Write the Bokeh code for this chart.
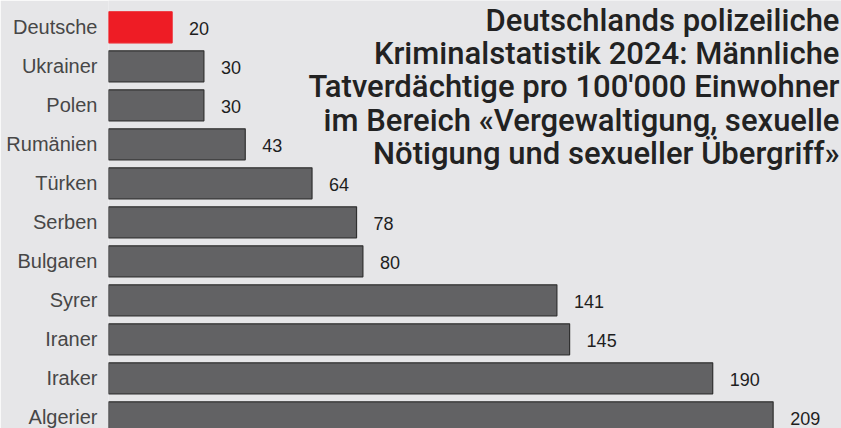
from bokeh.plotting import figure
from bokeh.models import ColumnDataSource, Range1d, FixedTicker, Label
from bokeh.embed import file_html
from bokeh.resources import INLINE
from bokeh.core.properties import value

categories = ["Deutsche", "Ukrainer", "Polen", "Rumänien", "Türken", "Serben",
              "Bulgaren", "Syrer", "Iraner", "Iraker", "Algerier"]
values = [20, 30, 30, 43, 64, 78, 80, 141, 145, 190, 209]
highlight = "Deutsche"
title_lines = ["Deutschlands polizeiliche",
               "Kriminalstatistik 2024: Männliche",
               "Tatverdächtige pro 100'000 Einwohner",
               "im Bereich «Vergewaltigung, sexuelle",
               "Nötigung und sexueller Übergriff»"]

BG = "#e6e6e8"
RED = "#ee1c25"
GREY = "#626264"

idx = list(range(len(categories)))
fill = [RED if c == highlight else GREY for c in categories]
line = [RED if c == highlight else "#303030" for c in categories]
src = ColumnDataSource(dict(y=idx, v=values, cat=categories, fill=fill, line=line,
                            lab=[str(v) for v in values]))

W, H = 841, 428
X_END = 230.5
Y_TOP = -0.687
Y_BOT = 10.287
p = figure(width=W, height=H, output_backend="svg", toolbar_location=None,
           x_range=Range1d(0, X_END), y_range=Range1d(Y_BOT, Y_TOP),
           min_border=0, min_border_left=108)
p.background_fill_color = BG
p.border_fill_color = BG
p.outline_line_color = None
p.xgrid.visible = False
p.ygrid.visible = False
p.xaxis.visible = False

p.hbar(y="y", left=0, right="v", height=0.795, source=src,
       fill_color="fill", line_color="line", line_width=1.2)

p.text(x="v", y="y", text="lab", source=src, x_offset=17, y_offset=1,
       text_font=value("Liberation Sans"), text_font_size="18px",
       text_color="#1e1e1e", text_baseline="middle", text_align="left")

ya = p.yaxis[0]
ya.ticker = FixedTicker(ticks=idx)
ya.major_label_overrides = {i: c for i, c in zip(idx, categories)}
ya.axis_line_color = None
ya.major_tick_line_color = None
ya.minor_tick_line_color = None
ya.major_tick_out = 0
ya.major_tick_in = 0
ya.major_label_standoff = 11
ya.major_label_text_font = "Liberation Sans"
ya.major_label_text_font_size = "20px"
ya.major_label_text_color = "#474747"

title = Label(x=X_END, y=Y_TOP, x_offset=-2, y_offset=-1,
              text="\n".join(title_lines), text_align="right", text_baseline="top",
              text_font="Roboto Medium", text_font_style="normal",
              text_font_size="31px", text_color="#222222", text_line_height=0.905)
p.add_layout(title)

open("out.html", "w").write(file_html(p, INLINE))
